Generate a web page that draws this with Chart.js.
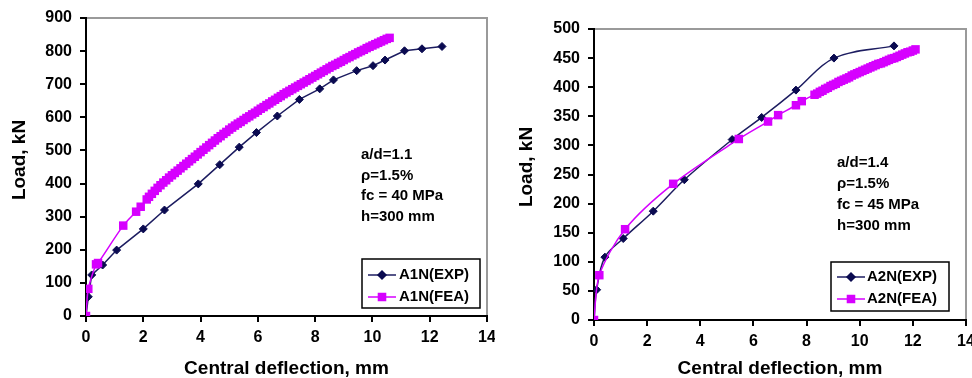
<!DOCTYPE html>
<html>
<head>
<meta charset="utf-8">
<script src="https://cdn.jsdelivr.net/npm/chart.js@4/dist/chart.umd.min.js"></script>
<style>
  body { margin: 0; background: #fff; }
  .panel { position: absolute; top: 0; height: 378px; }
  #panelA1N { left: 0; width: 495px; }
  #panelA2N { left: 495px; width: 477px; }
</style>
</head>
<body>
<div class="panel" id="panelA1N"><canvas id="chartA1N"></canvas></div>
<div class="panel" id="panelA2N"><canvas id="chartA2N"></canvas></div>
<script>
// ---- beam A1N ----
const a1nExpDefl = [0, 0.08, 0.2, 0.58, 1.07, 2.0, 2.74, 3.92, 4.67, 5.35, 5.95, 6.68, 7.45, 8.16, 8.64, 9.45, 10.02, 10.44, 11.12, 11.73, 12.43];
const a1nExpLoad = [0, 58, 124, 154, 199, 263, 320, 399, 457, 510, 554, 604, 654, 686, 713, 741, 756, 773, 801, 807, 814];

const a1nFeaDefl = [0, 0.08, 0.35, 0.42, 1.3, 1.75, 1.91, 2.12,
  2.2, 2.3, 2.4, 2.5, 2.6, 2.7, 2.8, 2.9, 3.0,
  3.1, 3.2, 3.3, 3.4, 3.5, 3.6, 3.7, 3.8, 3.9, 4.0,
  4.1, 4.2, 4.3, 4.4, 4.5, 4.6, 4.7, 4.8, 4.9, 5.0,
  5.1, 5.2, 5.3, 5.4, 5.5, 5.6, 5.7, 5.8, 5.9, 6.0,
  6.1, 6.2, 6.3, 6.4, 6.5, 6.6, 6.7, 6.8, 6.9, 7.0,
  7.1, 7.2, 7.3, 7.4, 7.5, 7.6, 7.7, 7.8, 7.9, 8.0,
  8.1, 8.2, 8.3, 8.4, 8.5, 8.6, 8.7, 8.8, 8.9, 9.0,
  9.1, 9.2, 9.3, 9.4, 9.5, 9.6, 9.7, 9.8, 9.9, 10.0,
  10.1, 10.2, 10.3, 10.4, 10.5, 10.6];
const a1nFeaLoad = [0, 82, 156, 160, 273, 315, 330, 352,
  360, 369, 378, 387, 395, 403, 410, 418, 425,
  432, 439, 446, 453, 460, 467, 474, 481, 488, 495,
  502, 509, 516, 523, 530, 537, 543, 550, 556, 563,
  569, 575, 581, 586, 592, 598, 603, 609, 614, 620,
  626, 631, 637, 642, 648, 653, 659, 664, 670, 675,
  680, 685, 690, 695, 700, 705, 710, 715, 720, 725,
  730, 735, 740, 745, 750, 755, 759, 764, 768, 773,
  778, 782, 787, 791, 796, 800, 804, 809, 813, 817,
  821, 825, 829, 833, 837, 840];

const a1nNotes = ['a/d=1.1', 'ρ=1.5%', 'fc = 40 MPa', 'h=300 mm'];

// ---- beam A2N ----
const a2nExpDefl = [0, 0.1, 0.41, 1.1, 2.23, 3.4, 5.2, 6.31, 7.6, 9.03, 11.29];
const a2nExpLoad = [0, 52, 108, 140, 187, 241, 310, 348, 395, 450, 471];

const a2nFeaDefl = [0, 0.2, 1.17, 2.98, 5.45, 6.55, 6.93, 7.6, 7.82,
  8.3, 8.4, 8.5, 8.6, 8.7, 8.8, 8.9, 9.0,
  9.1, 9.2, 9.3, 9.4, 9.5, 9.6, 9.7, 9.8, 9.9, 10.0,
  10.1, 10.2, 10.3, 10.4, 10.5, 10.6, 10.7, 10.8, 10.9, 11.0,
  11.1, 11.2, 11.3, 11.4, 11.5, 11.6, 11.7, 11.8, 11.9, 12.0, 12.1];
const a2nFeaLoad = [0, 77, 156, 234, 311, 341, 352, 369, 376,
  387, 389, 392, 394, 397, 399, 402, 404,
  406, 409, 411, 413, 415, 417, 420, 422, 424, 426,
  428, 430, 432, 434, 436, 438, 440, 441, 443, 445,
  447, 449, 450, 452, 454, 456, 458, 460, 461, 463, 465];

const a2nNotes = ['a/d=1.4', 'ρ=1.5%', 'fc = 45 MPa', 'h=300 mm'];

const xTitle = 'Central deflection, mm';
const yTitle = 'Load, kN';

const EXP_COLOR = '#1c1c60';
const FEA_COLOR = '#d600ff';
const FONT = '"Liberation Sans", Arial, sans-serif';

const pairs = (xs, ys) => xs.map((x, i) => ({ x: x, y: ys[i] }));

// plot frame, rotated y title, the parameter notes and the boxed legend
const decor = {
  id: 'decor',
  beforeDraw(chart, args, o) {
    const { ctx, chartArea: a } = chart;
    ctx.save();
    ctx.strokeStyle = '#9a9a9a';
    ctx.lineWidth = 2;
    ctx.beginPath();
    ctx.moveTo(a.left, a.top);
    ctx.lineTo(a.right, a.top);
    ctx.lineTo(a.right, a.bottom);
    ctx.stroke();
    ctx.restore();
  },
  afterDraw(chart, args, o) {
    const ctx = chart.ctx;
    ctx.save();
    ctx.fillStyle = '#000';

    // y axis title
    ctx.font = 'bold 19px ' + FONT;
    ctx.textAlign = 'center';
    ctx.textBaseline = 'middle';
    ctx.translate(o.yTitle.x, o.yTitle.y);
    ctx.rotate(-Math.PI / 2);
    ctx.fillText(yTitle, 0, 0);
    ctx.setTransform(1, 0, 0, 1, 0, 0);
    ctx.scale(chart.currentDevicePixelRatio, chart.currentDevicePixelRatio);

    // notes
    ctx.font = 'bold 15px ' + FONT;
    ctx.textAlign = 'left';
    o.notes.lines.forEach((t, i) => ctx.fillText(t, o.notes.x, o.notes.y + i * o.notes.gap));

    // legend box
    const L = o.legend;
    ctx.strokeStyle = '#000';
    ctx.lineWidth = 1.5;
    ctx.strokeRect(L.x1, L.y1, L.x2 - L.x1, L.y2 - L.y1);
    chart.data.datasets.forEach((ds, i) => {
      const y = L.rowY[i];
      ctx.strokeStyle = ds.borderColor;
      ctx.lineWidth = 1.5;
      ctx.beginPath();
      ctx.moveTo(L.lineX1, y);
      ctx.lineTo(L.lineX2, y);
      ctx.stroke();
      ctx.fillStyle = ds.pointBackgroundColor;
      ctx.strokeStyle = ds.pointBackgroundColor;
      Chart.helpers.drawPoint(ctx, { pointStyle: ds.pointStyle, rotation: 0, radius: L.markR[i], borderWidth: 1 },
        (L.lineX1 + L.lineX2) / 2, y);
      ctx.fillStyle = '#000';
      ctx.fillText(ds.label, L.textX, y);
    });
    ctx.restore();
  }
};

function makeChart(id, cfg) {
  const tickFont = { family: FONT, size: 16, weight: 'bold' };
  return new Chart(document.getElementById(id), {
    type: 'line',
    data: {
      datasets: [
        {
          label: cfg.name + '(EXP)',
          data: pairs(cfg.expDefl, cfg.expLoad),
          borderColor: EXP_COLOR,
          borderWidth: 1.5,
          pointStyle: 'rectRot',
          pointRadius: 4,
          pointBackgroundColor: '#0a0a50',
          pointBorderColor: '#0a0a50',
          pointBorderWidth: 1,
          tension: cfg.expTension,
          order: 1
        },
        {
          label: cfg.name + '(FEA)',
          data: pairs(cfg.feaDefl, cfg.feaLoad),
          borderColor: FEA_COLOR,
          borderWidth: 1.5,
          pointStyle: 'rect',
          pointRadius: 6,
          pointBackgroundColor: FEA_COLOR,
          pointBorderColor: FEA_COLOR,
          pointBorderWidth: 0,
          tension: 0.3,
          order: 0
        }
      ]
    },
    options: {
      responsive: true,
      maintainAspectRatio: false,
      animation: false,
      layout: { padding: cfg.padding },
      plugins: {
        legend: { display: false },
        tooltip: { enabled: false },
        decor: cfg.decor
      },
      scales: {
        x: {
          type: 'linear',
          min: 0,
          max: 14,
          ticks: { stepSize: 2, font: tickFont, color: '#000', padding: 6, maxRotation: 0 },
          grid: { drawOnChartArea: false, tickLength: 6, color: '#000', lineWidth: 2 },
          border: { color: '#000', width: 2 },
          title: { display: true, text: xTitle, color: '#000', font: { family: FONT, size: 19, weight: 'bold', lineHeight: 1 }, padding: 0 },
          afterFit: s => { s.height = cfg.xHeight; s.paddingLeft = 0; s.paddingRight = 0; }
        },
        y: {
          min: 0,
          max: cfg.yMax,
          ticks: { stepSize: cfg.yStep, font: tickFont, color: '#000', padding: 8 },
          grid: { drawOnChartArea: false, tickLength: 6, color: '#000', lineWidth: 2 },
          border: { color: '#000', width: 2 },
          afterFit: s => { s.width = cfg.yWidth; }
        }
      }
    },
    plugins: [decor]
  });
}

makeChart('chartA1N', {
  name: 'A1N',
  expDefl: a1nExpDefl, expLoad: a1nExpLoad,
  feaDefl: a1nFeaDefl, feaLoad: a1nFeaLoad,
  expTension: 0,
  yMax: 900, yStep: 100,
  yWidth: 86, xHeight: 62,
  padding: { left: 0, top: 18, right: 8, bottom: 0 },
  decor: {
    yTitle: { x: 20, y: 160 },
    notes: { x: 361, y: 155, gap: 20.5, lines: a1nNotes },
    legend: { x1: 362, y1: 259, x2: 480, y2: 308, rowY: [275, 297], lineX1: 368, lineX2: 396, textX: 399, markR: [4, 5] }
  }
});

makeChart('chartA2N', {
  name: 'A2N',
  expDefl: a2nExpDefl, expLoad: a2nExpLoad,
  feaDefl: a2nFeaDefl, feaLoad: a2nFeaLoad,
  expTension: 0.35,
  yMax: 500, yStep: 50,
  yWidth: 99, xHeight: 58,
  padding: { left: 0, top: 29, right: 6, bottom: 0 },
  decor: {
    yTitle: { x: 32, y: 167 },
    notes: { x: 342, y: 163, gap: 21, lines: a2nNotes },
    legend: { x1: 336, y1: 262, x2: 454, y2: 311, rowY: [277, 299], lineX1: 342, lineX2: 370, textX: 372, markR: [4, 5] }
  }
});
</script>
</body>
</html>
